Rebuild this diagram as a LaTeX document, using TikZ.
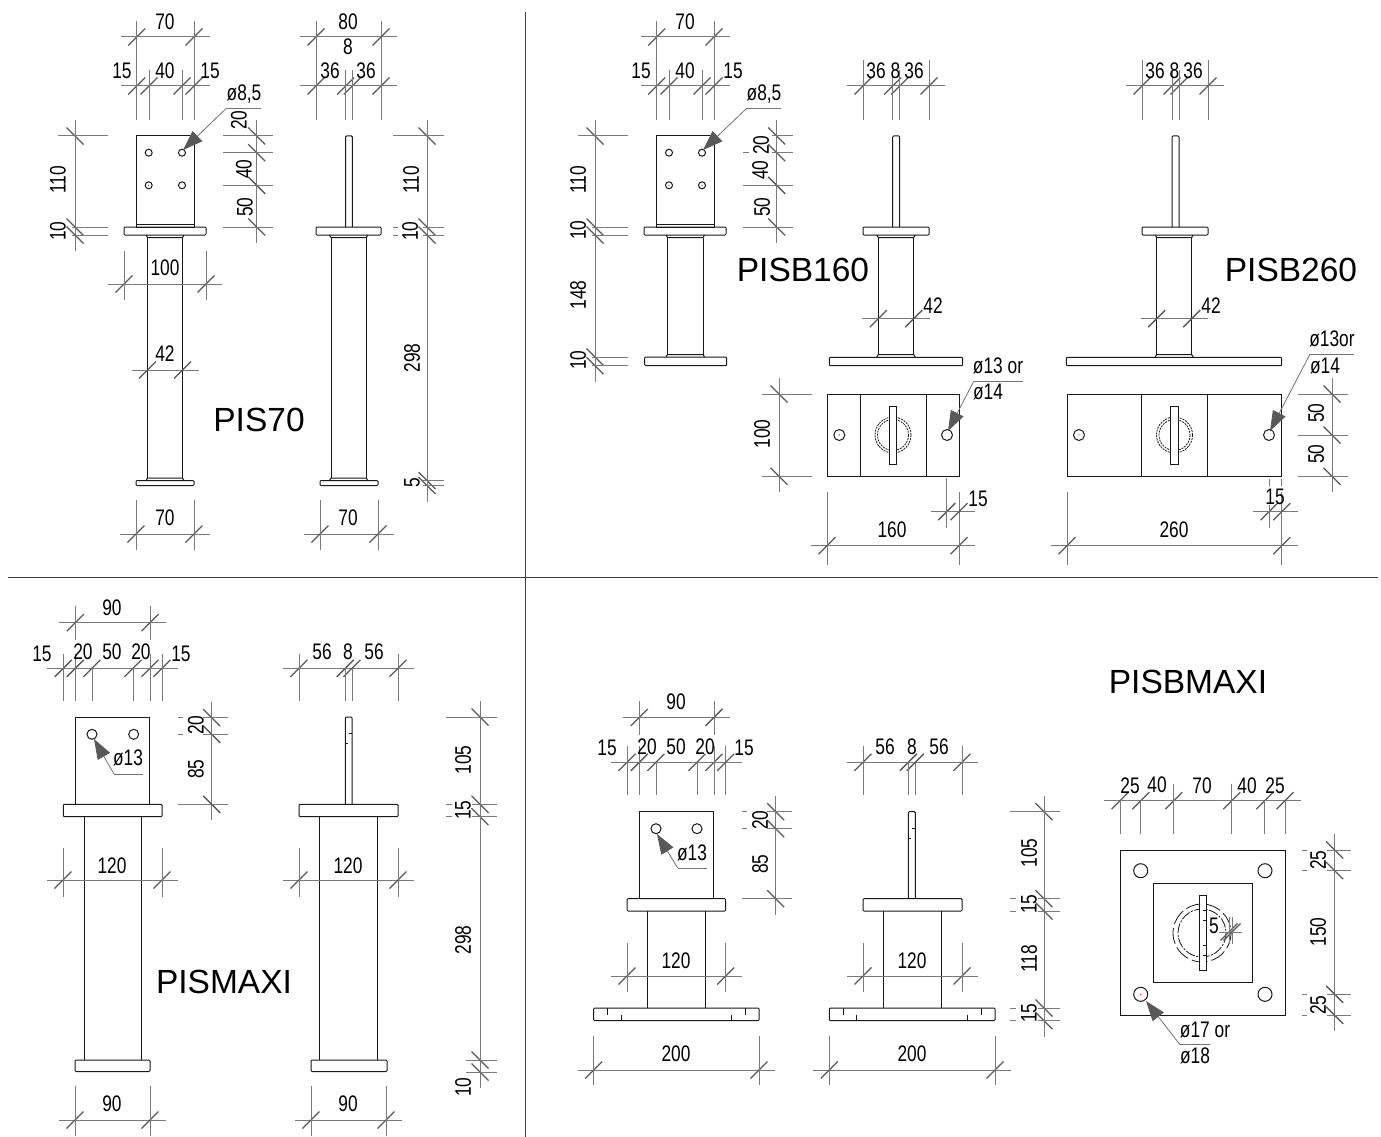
\documentclass[tikz,border=0pt]{standalone}
\usepackage{fontspec}
\setmainfont{Liberation Sans}
\newfontfamily\dimfont[FakeStretch=0.77]{Liberation Sans}
\usetikzlibrary{arrows.meta}
\tikzset{
	steel/.style={draw=black!90,line width=1pt},
	dimline/.style={draw=black!52,line width=1pt},
	dimtick/.style={draw=black!65,line width=1.3pt},
	frameline/.style={draw=black!75,line width=1pt},
	leaderline/.style={draw=black!55,line width=0.8pt},
	dimtext/.style={inner sep=0pt,font=\dimfont\fontsize{22.5}{24}\selectfont},
	uptext/.style={dimtext,rotate=90},
	titletext/.style={inner sep=0pt,font=\fontsize{33.5}{36}\selectfont}
}
\newcommand{\hdim}[3][16]{%
	\foreach \xx [count=\i, remember=\xx as \pv] in {#3}{%
		\ifnum\i>1 \draw[dimline] (\pv,#2) -- (\xx,#2);\fi
		\draw[dimline] (\xx-#1,#2) -- (\xx+#1,#2);
		\draw[dimtick] (\xx-8.5,#2+8.5) -- (\xx+8.5,#2-8.5);
	}}
\newcommand{\vdim}[2]{%
	\foreach \yy [count=\i, remember=\yy as \pv] in {#2}{%
		\ifnum\i>1 \draw[dimline] (#1,\pv) -- (#1,\yy);\fi
		\draw[dimline] (#1,\yy-16) -- (#1,\yy+16);
		\draw[dimtick] (#1-8.5,\yy-8.5) -- (#1+8.5,\yy+8.5);
	}}
\newcommand{\hext}[3]{\foreach \xx in {#3}{\draw[dimline] (\xx,#1) -- (\xx,#2);}}
\newcommand{\vext}[3]{\foreach \yy in {#3}{\draw[dimline] (#1,\yy) -- (#2,\yy);}}
\newcommand{\plate}[4]{\draw[steel,rounded corners=1pt] (#1,#3) rectangle (#2,#4);}
\newcommand{\blade}[4]{\draw[steel] (#1,#4) -- (#1,#3+1) -- (#1+1,#3) -- (#2-1,#3) -- (#2,#3+1) -- (#2,#4);}
\newcommand{\pipe}[4]{%
	\draw[steel] (#1-1.5,#3) -- (#1,#3+2.5) -- (#2,#3+2.5) -- (#2+1.5,#3);
	\draw[steel] (#1-1.5,#4) -- (#1,#4-2.5) -- (#2,#4-2.5) -- (#2+1.5,#4);
	\draw[steel] (#1,#3+2.5) -- (#1,#4-2.5) (#2,#3+2.5) -- (#2,#4-2.5);}
\newcommand{\holes}[2]{\foreach \hx/\hy in {#2}{\draw[steel,fill=white] (\hx,\hy) circle[radius=#1];}}
\newcommand{\leader}[6]{%
	\coordinate (#1-a) at (#3,#2);
	\coordinate (#1-b) at (#4,#2);
	\coordinate (#1-c) at (#5,#6);
	\draw[leaderline] (#1-a) -- (#1-b);
	\draw[leaderline,-{Triangle[length=20pt,width=14pt,color=black!65]}] (#1-b) -- (#1-c);}
\newcommand{\basemarks}[2]{%
	\draw[steel,line width=0.8pt] (#1+13.7,1008) -- (#1+13.7,1015) (#1+27.3,1015) -- (#1+27.3,1020.7);
	\draw[steel,line width=0.8pt] (#2-13.7,1008) -- (#2-13.7,1015) (#2-27.3,1015) -- (#2-27.3,1020.7);}
\begin{document}
\begin{tikzpicture}[x=1pt,y=-1pt]
	\useasboundingbox[fill=white] (0,0) rectangle (1381,1137);
	\coordinate (frame-t) at (525,12);
	\coordinate (frame-b) at (525,1137);
	\coordinate (frame-l) at (8,577);
	\coordinate (frame-r) at (1378,577);
	\draw[frameline] (frame-t) -- (frame-b) (frame-l) -- (frame-r);

	\draw[steel] (136.7,136) rectangle (194,227) (136.7,224) -- (194,224);
	\holes{3.5}{148.7/152.7,182/152.7,148.7/185.3,182/185.3}
	\plate{124}{206}{227}{235}
	\pipe{147.5}{182.5}{235}{480.5}
	\plate{136}{194}{480.5}{485.5}
	\blade{345.7}{352.3}{136}{227}
	\plate{316}{381}{227}{235}
	\pipe{331}{366.3}{235}{480.5}
	\plate{320}{378}{480.5}{485.5}
	\fill[red] (148.7,185.3) circle[radius=0.7];

	\hdim{37}{136.7,194}
	\hdim{86}{136.7,149,182,194}
	\hext{21}{120}{136.7,194}
	\hext{70}{120}{149,182}
	\hdim{37}{316,381}
	\hdim{86}{316,345.7,352.3,381}
	\hext{21}{120}{316,381}
	\hext{70}{120}{345.7,352.3}
	\hdim{284}{124,206}
	\hext{251}{300}{124,206}
	\hdim{370}{147.5,182.5}
	\hdim{534}{136,194}
	\hext{500}{550}{136,194}
	\hdim{534}{320,378}
	\hext{500}{550}{320,378}
	\vdim{75}{136,227,235}
	\vext{58}{108}{136}
	\vext{72}{108}{227,235}
	\vdim{256.7}{136,152.7,185.3,227}
	\vext{223}{273}{136,152.7,185.3,227}
	\vdim{427}{136,227,235,480.5,485.5}
	\vext{393}{444}{136}
	\vext{393}{398}{227,235}
	\vext{423}{444}{227,235,480.5,485.5}
	\leader{pis}{108}{261}{226.7}{183}{150}
	\foreach \px/\py/\txt [count=\n] in {165/22/70,122/71/15,165/71/40,210/71/15,244/94/{ø8,5},348/22/80,348/47/8,330/71/36,366/71/36,165/268/100,165/354/42,165/518/70,348/518/70}
		\node[dimtext] (pis-\n) at (\px,\py) {\txt};
	\foreach \px/\py/\txt [count=\n] in {58/180/110,58/231/10,239/120/20,244/169/40,245/207/50,411/180/110,410/231/10,412/358/298,412/483/5}
		\node[uptext] (pisup-\n) at (\px,\py) {\txt};
	\node[titletext] (pis-title) at (259,420) {PIS70};

	\draw[steel] (656.7,136) rectangle (714,227) (656.7,224) -- (714,224);
	\holes{3.5}{669/152.7,702/152.7,669/185.3,702/185.3}
	\plate{644}{726}{227}{235}
	\pipe{667.5}{703}{235}{357}
	\plate{644.7}{726.7}{357}{365.7}
	\blade{892.7}{899.7}{136}{227}
	\plate{863}{929}{227}{235}
	\pipe{878.3}{913.7}{235}{357}
	\plate{829.3}{962.7}{357.3}{365.7}
	\draw[steel] (827,394) rectangle (959,476.3) (860,394) -- (860,476.3) (926,394) -- (926,476.3);
	\draw[steel,line width=0.8pt,dash pattern=on 2pt off 1pt] (893,435) circle[radius=18] (893,435) circle[radius=15.5];
	\draw[steel,fill=white] (889.3,406.3) rectangle (896.7,464);
	\holes{5.5}{839.3/435,947/435}
	\fill[red] (669,185.3) circle[radius=0.7] (702,185.3) circle[radius=0.7] (839.3,435) circle[radius=0.7];

	\hdim{37}{656.7,714}
	\hdim{86}{656.7,669,702,714}
	\hext{21}{120}{656.7,714}
	\hext{70}{120}{669,702}
	\vdim{595}{136,227,235,357,365.7}
	\vext{578}{628}{136}
	\vext{592}{628}{227,235,357,365.7}
	\vdim{776.7}{136,152.7,185.3,227}
	\vext{772}{793}{136,152.7}
	\vext{743}{749}{152.7}
	\vext{743}{793}{185.3,227}
	\hdim{86}{863,892.7,899.7,929}
	\hext{60}{120}{863,929}
	\hext{70}{120}{892.7,899.7}
	\hdim{318.7}{878.3,913.7}
	\vdim{779}{394,476.3}
	\vext{762}{812}{394,476.3}
	\hdim{545.7}{827,959}
	\hext{492}{565}{827,959}
	\hdim{511.7}{946.7,959}
	\hext{478}{528}{946.7}
	\leader{pisb}{108}{781}{747}{703}{150}
	\leader{pisbplan}{381.3}{1023}{973.7}{948}{431}
	\foreach \px/\py/\txt [count=\n] in {685/22/70,641/71/15,685/71/40,733/71/15,764/94/{ø8,5},876/71/36,895.5/71/8,914/71/36,933/306/42,998/366/ø13 or,988/392/ø14,892/530/160,978/499/15}
		\node[dimtext] (pisb-\n) at (\px,\py) {\txt};
	\foreach \px/\py/\txt [count=\n] in {578/180/110,578/230/10,578/295/148,578/360/10,761/145/20,760/170/40,762/207/50,762/434/100}
		\node[uptext] (pisbup-\n) at (\px,\py) {\txt};
	\node[titletext] (pisb-title) at (803,270) {PISB160};

	\blade{1172}{1179}{136}{227}
	\plate{1142}{1208}{227}{235}
	\pipe{1156.7}{1191.7}{235}{357}
	\plate{1066.3}{1281.7}{357.3}{365.7}
	\draw[steel] (1067,394) rectangle (1281.7,476.3) (1141.7,394) -- (1141.7,476.3) (1207.3,394) -- (1207.3,476.3);
	\draw[steel,line width=0.8pt,dash pattern=on 2pt off 1pt] (1174.5,435) circle[radius=18] (1174.5,435) circle[radius=15.5];
	\draw[steel,fill=white] (1170.7,406.3) rectangle (1178,464);
	\holes{5.5}{1079/435,1269/435}
	\fill[red] (1079,435) circle[radius=0.7];

	\hdim{86}{1142,1172,1179,1208}
	\hext{60}{120}{1142,1208}
	\hext{70}{120}{1172,1179}
	\hdim{318.7}{1156.7,1191.7}
	\vdim{1332}{394,435,476.3}
	\vext{1298}{1348}{394,435,476.3}
	\hdim{545.7}{1067,1281.7}
	\hext{492}{565}{1067,1281.7}
	\hdim{511.7}{1269,1281.7}
	\hext{479}{486}{1269,1281.7}
	\hext{505}{528}{1269,1281.7}
	\leader{pisc}{354}{1354}{1310}{1270}{431}
	\foreach \px/\py/\txt [count=\n] in {1155/71/36,1174.5/71/8,1193/71/36,1211/306/42,1332/339/ø13or,1325/366/ø14,1174/530/260,1275/497/15}
		\node[dimtext] (pisc-\n) at (\px,\py) {\txt};
	\foreach \px/\py/\txt [count=\n] in {1316/413/50,1316/454/50}
		\node[uptext] (piscup-\n) at (\px,\py) {\txt};
	\node[titletext] (pisc-title) at (1291,270) {PISB260};

	\draw[steel] (75.3,804.3) -- (75.3,717) -- (149.7,717) -- (149.7,804.3);
	\holes{5}{92/734.3,133.7/734.3}
	\plate{63.3}{162}{804.3}{816.7}
	\draw[steel] (84,816.7) -- (84,1060) (141.7,816.7) -- (141.7,1060);
	\plate{75}{150}{1060}{1071.5}
	\blade{345.3}{352}{717}{804.3}
	\draw[steel,line width=0.8pt] (349,733) -- (352,733) (345.3,743) -- (348,743);
	\plate{299}{398}{804.3}{816.7}
	\draw[steel] (319.7,816.7) -- (319.7,1060) (377.7,816.7) -- (377.7,1060);
	\plate{311}{387}{1060}{1071.5}

	\hdim{622.7}{75.3,150}
	\hext{606}{640}{75.3,150}
	\hdim{668.3}{63.3,75.3,92,133,150,162}
	\hext{654}{701}{63.3,75.3,150,162}
	\hext{668}{701}{92,133}
	\hdim{668.3}{299,345.3,352,398}
	\hext{654}{701}{299,398}
	\hext{668}{701}{345.3,352}
	\vdim{211.7}{717.7,734.3,804.3}
	\vext{178}{183}{717.7,734.3}
	\vext{203}{228}{717.7,734.3}
	\vext{178}{228}{804.3}
	\vdim{480}{717,804.3,816.7,1060,1072}
	\vext{446}{497}{717}
	\vext{446}{452}{804.3,816.7}
	\vext{472}{497}{804.3,816.7}
	\vext{466}{497}{1060,1072}
	\hdim{880}{63,162}
	\hext{848}{897}{63,162}
	\hdim{880}{299,398}
	\hext{848}{897}{299,398}
	\hdim{1120}{75,150}
	\hext{1086}{1136}{75,150}
	\hdim{1120}{311,386}
	\hext{1086}{1136}{311,386}
	\leader{pism}{774}{143}{114}{94}{739}
	\foreach \px/\py/\txt [count=\n] in {112/608/90,42/654/15,83/652/20,112/652/50,141/652/20,181/654/15,322/652/56,348/652/8,374/652/56,128/758/ø13,112/866/120,348/866/120,112/1104/90,348/1104/90}
		\node[dimtext] (pism-\n) at (\px,\py) {\txt};
	\foreach \px/\py/\txt [count=\n] in {196/725/20,196/769/85,463/760/105,463/810/15,463/940/298,463/1087/10}
		\node[uptext] (pismup-\n) at (\px,\py) {\txt};
	\node[titletext] (pism-title) at (224,982) {PISMAXI};

	\draw[steel] (639.3,898.7) -- (639.3,811.7) -- (713.7,811.7) -- (713.7,898.7);
	\holes{5}{656/828.7,697/828.7}
	\plate{627}{725.7}{898.7}{911}
	\draw[steel] (647.3,911) -- (647.3,1008) (705.3,911) -- (705.3,1008);
	\plate{593.7}{759}{1008}{1020.7}
	\basemarks{593.7}{759}
	\blade{908.3}{915.3}{811.7}{898.7}
	\draw[steel,line width=0.8pt] (912,828) -- (915.3,828) (908.3,838) -- (911,838);
	\plate{863}{962}{898.7}{911}
	\draw[steel] (883.7,911) -- (883.7,1008) (941.3,911) -- (941.3,1008);
	\plate{829.3}{995}{1008}{1020.7}
	\basemarks{829.3}{995}
	\draw[steel] (1120,850) rectangle (1285,1015.3) (1153.3,883) rectangle (1252.7,982.3);
	\holes{7}{1140.7/870.7,1265/870.7,1140.7/994.3,1265/994.3}
	\draw[steel,line width=0.8pt,dash pattern=on 16pt off 4pt] (1202,933) circle[radius=29];
	\draw[steel,line width=0.8pt,dash pattern=on 10pt off 1.5pt on 2pt off 1.5pt] (1202,933) circle[radius=24];
	\draw[steel,fill=white] (1199.3,895.3) rectangle (1206.3,970);
	\draw[steel,line width=0.8pt] (1203,910) -- (1206.3,910) (1203,920) -- (1206.3,920) (1203,945) -- (1206.3,945) (1203,955) -- (1206.3,955);
	\fill[red] (1140.7,994.3) circle[radius=0.7];

	\hdim{717.4}{639.3,714}
	\hext{701}{735}{639.3,714}
	\hdim{762.3}{627,639.3,656,697,714,725.7}
	\hext{746}{795}{627,639.3,714,725.7}
	\hext{762}{795}{656,697}
	\hdim{762.3}{863,908.3,915.3,962}
	\hext{746}{795}{863,962}
	\hext{762}{795}{908.3,915.3}
	\vdim{775.7}{811.7,828.7,898.7}
	\vext{742}{747}{811.7,828.7}
	\vext{767}{792}{811.7,828.7}
	\vext{742}{792}{898.7}
	\vdim{1044}{811.7,898.7,911,1008,1020.7}
	\vext{1010}{1060}{811.7}
	\vext{1010}{1016}{898.7,911,1008,1020.7}
	\vext{1038}{1060}{898.7,911,1008,1020.7}
	\hdim{976}{627,725.7}
	\hext{943}{992}{627,725.7}
	\hdim{976}{863,962}
	\hext{943}{992}{863,962}
	\hdim{1070}{593.7,759}
	\hext{1036}{1085}{593.7,759}
	\hdim{1070}{829.3,995}
	\hext{1036}{1085}{829.3,995}
	\hdim{800.7}{1120,1140.7,1173.7,1231.7,1264.7,1285}
	\hext{800.7}{833.7}{1120,1140.7,1264.7,1285}
	\hext{784}{833.7}{1173.7,1231.7}
	\hdim[10]{932}{1229,1232}
	\hext{917}{944}{1229,1232}
	\vdim{1334.7}{850,870.7,994.3,1015.3}
	\vext{1302}{1307}{850,870.7,994.3,1015.3}
	\vext{1327}{1351}{850,870.7,994.3,1015.3}
	\leader{pisd}{868}{707}{677.7}{657}{834}
	\leader{pise}{1044.7}{1210}{1180}{1146}{1001}
	\foreach \px/\py/\txt [count=\n] in {676/702/90,607/748/15,647/747/20,676/747/50,705/747/20,744/748/15,885/747/56,912/747/8,939/747/56,692/853/ø13,676/961/120,912/961/120,676/1054/200,912/1054/200,1130/786/25,1157/785/40,1202/786/70,1247/786/40,1275/786/25,1214/926/5,1205/1030/ø17 or,1195/1056/ø18}
		\node[dimtext] (pisd-\n) at (\px,\py) {\txt};
	\foreach \px/\py/\txt [count=\n] in {760/820/20,760/864/85,1029/853/105,1029/904/15,1029/959/118,1029/1013/15,1318/860/25,1318/932/150,1318/1005/25}
		\node[uptext] (pisdup-\n) at (\px,\py) {\txt};
	\node[titletext] (pisd-title) at (1188,682) {PISBMAXI};
\end{tikzpicture}
\end{document}
